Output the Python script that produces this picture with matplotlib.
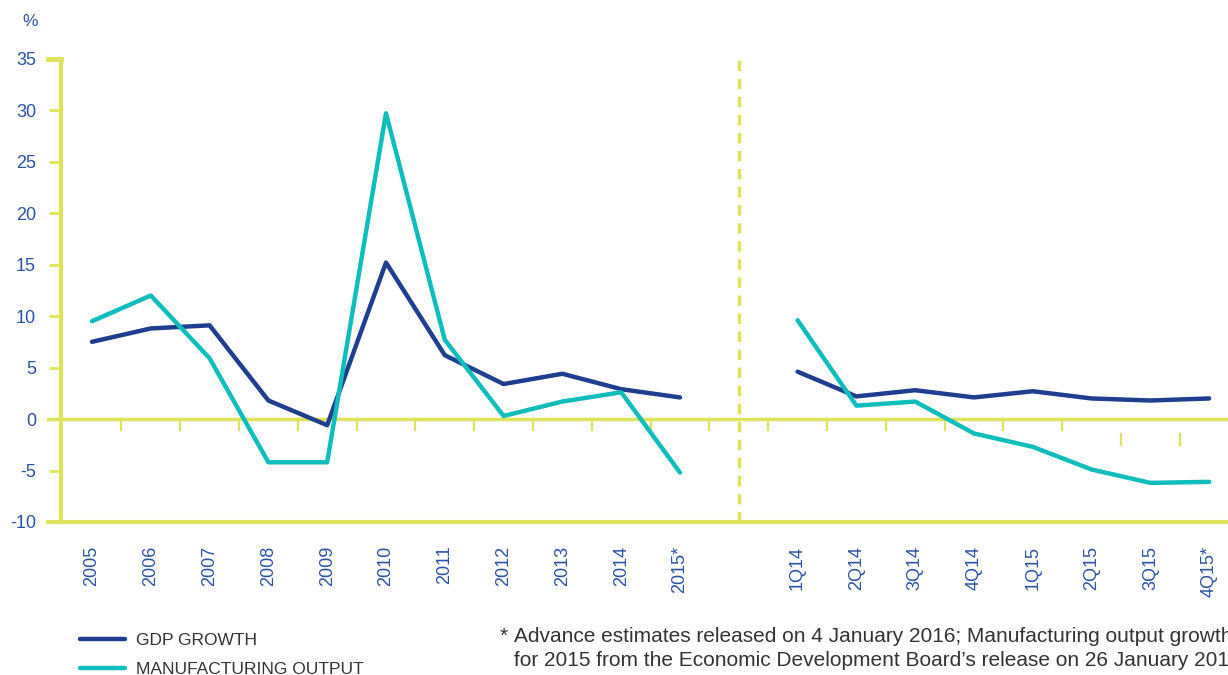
import matplotlib.pyplot as plt
import numpy as np

plt.rcParams['font.family'] = ['Liberation Sans', 'DejaVu Sans']

NAVY = '#1e3f8f'
TEAL = '#10bdbd'
YELLOW = '#dfe35a'
LABEL_BLUE = '#2c52a3'

years = ['2005', '2006', '2007', '2008', '2009', '2010',
         '2011', '2012', '2013', '2014', '2015*']
quarters = ['1Q14', '2Q14', '3Q14', '4Q14', '1Q15', '2Q15', '3Q15', '4Q15*']

gdp_annual = [7.5, 8.8, 9.1, 1.8, -0.6, 15.2, 6.2, 3.4, 4.4, 2.9, 2.1]
mfg_annual = [9.5, 12.0, 5.9, -4.2, -4.2, 29.7, 7.7, 0.3, 1.7, 2.6, -5.2]
gdp_quarterly = [4.6, 2.2, 2.8, 2.1, 2.7, 2.0, 1.8, 2.0]
mfg_quarterly = [9.6, 1.3, 1.7, -1.4, -2.7, -4.9, -6.2, -6.1]

yticks = [35, 30, 25, 20, 15, 10, 5, 0, -5, -10]

# annual points first, one empty slot for the divider, then the quarters
x_annual = np.arange(len(years))
divider = len(years)
x_quarter = np.arange(len(quarters)) + divider + 1

fig = plt.figure(figsize=(12.28, 6.75), dpi=100)
ax = fig.add_axes([61 / 1228, 1 - 522 / 675, 1 - 61 / 1228, (522 - 58.7) / 675])

ax.plot(x_annual, gdp_annual, color=NAVY, lw=3.2, solid_capstyle='round', zorder=4)
ax.plot(x_quarter, gdp_quarterly, color=NAVY, lw=3.2, solid_capstyle='round', zorder=4)
ax.plot(x_annual, mfg_annual, color=TEAL, lw=3.2, solid_capstyle='round', zorder=5)
ax.plot(x_quarter, mfg_quarterly, color=TEAL, lw=3.2, solid_capstyle='round', zorder=5)

ax.set_xlim(-0.527, 19.32)
ax.set_ylim(-10, 35)

for s in ['top', 'right', 'bottom']:
    ax.spines[s].set_visible(False)
ax.spines['left'].set_color(YELLOW)
ax.spines['left'].set_linewidth(3)

# zero line and bottom baseline run out past the left axis
ax.plot([-0.75, 19.4], [0, 0], color=YELLOW, lw=2.5, clip_on=False, zorder=2)
ax.plot([-0.75, 19.4], [-10, -10], color=YELLOW, lw=3, clip_on=False, zorder=2)
ax.plot([-0.75, -0.527], [35, 35], color=YELLOW, lw=3.5, clip_on=False, zorder=2)

# small category separators hanging from the zero line
for t in np.arange(0.5, 17, 1.0):
    ax.plot([t, t], [0, -1.05], color=YELLOW, lw=1.6, zorder=2)
for t in [17.5, 18.5]:
    ax.plot([t, t], [-1.5, -2.5], color=YELLOW, lw=1.6, zorder=2)

ax.axvline(divider, color=YELLOW, lw=2.5, ls=(0, (3, 2.2)), zorder=1)

ax.set_yticks(yticks)
ax.set_yticklabels([str(v) for v in yticks])
ax.tick_params(axis='y', length=9, width=2, color=YELLOW, pad=9,
               labelsize=13, labelcolor=LABEL_BLUE)
ax.set_xticks(list(x_annual) + list(x_quarter))
ax.set_xticklabels(years + quarters, rotation=90)
ax.tick_params(axis='x', length=0, pad=17, labelsize=13, labelcolor=LABEL_BLUE)

fig.text(30 / 1228, 1 - 22 / 675, '%', color=LABEL_BLUE, fontsize=12.5,
         ha='center', va='center')

handles = ax.get_lines()
leg = fig.legend([handles[0], handles[2]], ['GDP GROWTH', 'MANUFACTURING OUTPUT'],
                 loc='upper left', bbox_to_anchor=(64 / 1228, 1 - 617 / 675),
                 frameon=False, handlelength=2.6, handletextpad=0.65,
                 labelspacing=0.8, fontsize=12.5)
for txt in leg.get_texts():
    txt.set_color('#333333')

note_font = {'size': 15.0, 'color': '#333333'}
fig.text(500 / 1228, 1 - 636 / 675, '*', va='center', **note_font)
fig.text(514 / 1228, 1 - 636 / 675,
         'Advance estimates released on 4 January 2016; Manufacturing output growth',
         va='center', **note_font)
fig.text(514 / 1228, 1 - 660 / 675,
         'for 2015 from the Economic Development Board\u2019s release on 26 January 2016.',
         va='center', **note_font)

fig.savefig('out.png', dpi=100)
